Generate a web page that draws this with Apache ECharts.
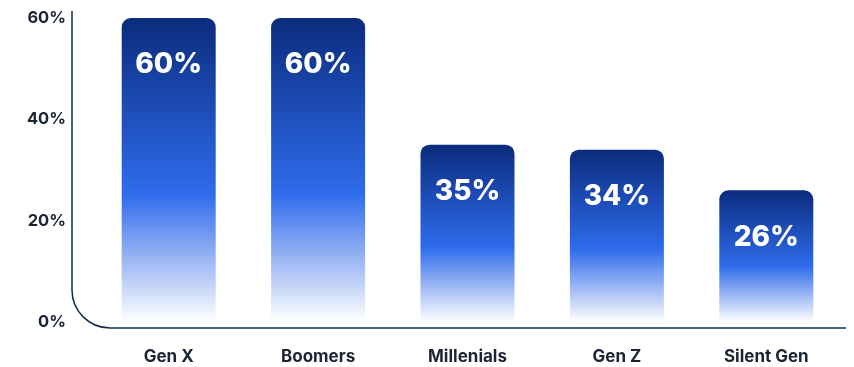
<!DOCTYPE html>
<html>
<head>
<meta charset="utf-8">
<script src="https://cdn.jsdelivr.net/npm/echarts@6/dist/echarts.min.js"></script>
<style>
  html, body { margin: 0; padding: 0; background: #fff; }
  #chart { width: 854px; height: 367px; }
</style>
</head>
<body>
<div id="chart"></div>
<script>
// 各代人数据
const categories = ['Gen X', 'Boomers', 'Millenials', 'Gen Z', 'Silent Gen'];
const values = [60, 60, 35, 34, 26];
const yTicks = [0, 20, 40, 60];

const chart = echarts.init(document.getElementById('chart'));
const textDark = '#1b2434';
const lineColor = '#0d2b4a';

const option = {
  animation: false,
  grid: { left: 94, right: 13, top: 18, bottom: 45 },
  xAxis: {
    type: 'category',
    data: categories,
    axisLine: { show: false },
    axisTick: { show: false },
    axisLabel: {
      color: textDark,
      fontFamily: 'Inter',
      fontWeight: 'bold',
      fontSize: 17,
      margin: 26
    }
  },
  yAxis: {
    type: 'value',
    min: yTicks[0],
    max: yTicks[yTicks.length - 1],
    interval: 20,
    splitLine: { show: false },
    axisLine: { show: false },
    axisTick: { show: false },
    axisLabel: {
      color: textDark,
      fontFamily: 'Inter',
      fontWeight: 'bold',
      fontSize: 16.5,
      margin: 28,
      formatter: v => v + '%'
    }
  },
  series: [{
    type: 'bar',
    data: values,
    barWidth: 94,
    itemStyle: {
      borderRadius: [9, 9, 0, 0],
      color: new echarts.graphic.LinearGradient(0, 0, 0, 1, [
        { offset: 0, color: '#0b2b7c' },
        { offset: 0.3, color: '#1d4db8' },
        { offset: 0.58, color: '#2f6cec' },
        { offset: 0.8, color: '#9db8f4' },
        { offset: 1, color: '#ffffff' }
      ])
    },
    label: {
      show: true,
      position: 'insideTop',
      distance: 33,
      color: '#fff',
      fontFamily: 'Inter',
      fontWeight: 800,
      fontSize: 28,
      formatter: p => p.value + '%'
    }
  }]
};
chart.setOption(option);

// 圆角坐标轴线
const topLeft = chart.convertToPixel({ gridIndex: 0 }, [0, yTicks[yTicks.length - 1]]);
const zero = chart.convertToPixel({ gridIndex: 0 }, [0, 0]);
const ax = 72, ay0 = topLeft[1] - 7, ay1 = zero[1] + 6, r = 38, ax1 = 846;
const lineStyle = { stroke: lineColor, lineWidth: 1.5, fill: null };
chart.setOption({
  graphic: [
    { type: 'line', silent: true, shape: { x1: ax, y1: ay0, x2: ax, y2: ay1 - r }, style: lineStyle },
    { type: 'arc', silent: true, shape: { cx: ax + r, cy: ay1 - r, r: r, startAngle: Math.PI / 2, endAngle: Math.PI, clockwise: true }, style: lineStyle },
    { type: 'line', silent: true, shape: { x1: ax + r, y1: ay1, x2: ax1, y2: ay1 }, style: lineStyle }
  ]
});
</script>
</body>
</html>
